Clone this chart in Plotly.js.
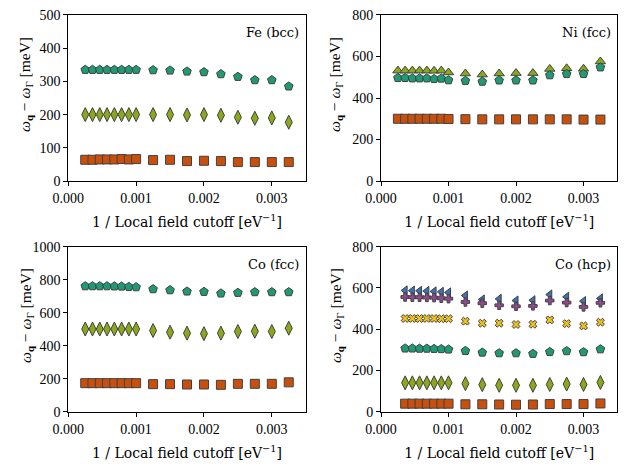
<!DOCTYPE html>
<html>
<head>
<meta charset="utf-8">
<script src="https://cdn.plot.ly/plotly-3.0.1.min.js"></script>
<style>
  html, body { margin: 0; padding: 0; background: #fff; }
  #chart { width: 627px; height: 467px; }
</style>
</head>
<body>
<div id="chart"></div>
<script>
// 1 / cutoff values (eV^-1)
const xAll = [0.00025, 0.000357, 0.000464, 0.000571, 0.000679, 0.000786, 0.000893, 0.001,
  0.00125, 0.0015, 0.00175, 0.002, 0.00225, 0.0025, 0.00275, 0.003, 0.00325];
const xHcp = xAll.slice(1);

// Fe (bcc)
const feSquare = [64, 64, 65, 65, 65, 66, 65, 66, 63, 64, 60, 61, 60, 57, 57, 57, 57];
const feDiamond = [200, 200, 200, 200, 200, 200, 200, 200, 200, 200, 199, 200, 198, 192, 189, 190, 177];
const fePentagon = [335, 335, 335, 335, 335, 335, 335, 335, 334, 333, 330, 328, 322, 314, 304, 304, 285];

// Ni (fcc)
const niSquare = [300, 300, 300, 300, 300, 300, 300, 299, 298, 297, 297, 297, 297, 297, 297, 296, 296];
const niTriangle = [532, 532, 532, 532, 532, 531, 532, 523, 518, 513, 518, 520, 520, 540, 543, 541, 576];
const niPentagon = [497, 497, 495, 495, 495, 492, 494, 486, 483, 479, 485, 485, 485, 510, 516, 516, 548];

// Co (fcc)
const cofSquare = [173, 173, 173, 173, 173, 173, 173, 173, 167, 167, 165, 165, 163, 169, 169, 169, 178];
const cofDiamond = [501, 501, 501, 501, 501, 501, 501, 501, 492, 482, 476, 473, 476, 486, 488, 486, 506];
const cofPentagon = [761, 761, 761, 761, 760, 759, 757, 755, 743, 737, 729, 727, 717, 721, 725, 725, 725];

// Co (hcp)
const cohSquare = [39, 39, 39, 39, 39, 39, 39, 36, 36, 35, 34, 35, 37, 37, 37, 40];
const cohDiamond = [140, 140, 140, 140, 140, 140, 140, 136, 131, 128, 128, 128, 132, 134, 132, 142];
const cohPentagon = [307, 307, 306, 306, 305, 304, 302, 295, 287, 284, 284, 281, 290, 294, 289, 303];
const cohX = [452, 452, 452, 452, 452, 451, 451, 439, 429, 429, 423, 424, 445, 427, 416, 434];
const cohPlus = [556, 555, 555, 554, 553, 550, 548, 532, 526, 516, 511, 513, 539, 529, 508, 528];
const cohTriangle = [588, 587, 586, 585, 583, 581, 578, 563, 544, 547, 539, 540, 568, 557, 536, 549];

const panelLabels = ["Fe (bcc)", "Ni (fcc)", "Co (fcc)", "Co (hcp)"];

const cOrange = "#c9500c";
const cGreen = "#1f9a74";
const cOlive = "#8aa81c";
const cBlue = "#3d72b6";
const cPurple = "#8f4a8f";
const cYellow = "#f1c21e";
const edge = "#404040";

function pts(x, y, axis, symbol, color, size) {
  return {
    x: x, y: y,
    xaxis: "x" + axis, yaxis: "y" + axis,
    type: "scatter", mode: "markers",
    showlegend: false, hoverinfo: "skip",
    marker: { symbol: symbol, color: color, size: size, line: { color: edge, width: 1 } }
  };
}

const traces = [
  pts(xAll, feSquare, "", "square", cOrange, 9),
  pts(xAll, feDiamond, "", "diamond-tall", cOlive, 10),
  pts(xAll, fePentagon, "", "pentagon", cGreen, 9),

  pts(xAll, niSquare, "2", "square", cOrange, 9),
  pts(xAll, niTriangle, "2", "triangle-up", cOlive, 9),
  pts(xAll, niPentagon, "2", "pentagon", cGreen, 9),

  pts(xAll, cofSquare, "3", "square", cOrange, 9),
  pts(xAll, cofDiamond, "3", "diamond-tall", cOlive, 10),
  pts(xAll, cofPentagon, "3", "pentagon", cGreen, 9),

  pts(xHcp, cohSquare, "4", "square", cOrange, 9),
  pts(xHcp, cohDiamond, "4", "diamond-tall", cOlive, 10),
  pts(xHcp, cohPentagon, "4", "pentagon", cGreen, 9),
  pts(xHcp, cohX, "4", "x", cYellow, 7),
  pts(xHcp, cohTriangle, "4", "triangle-left", cBlue, 8),
  pts(xHcp, cohPlus, "4", "cross", cPurple, 7)
];

const tickFont = { family: "Liberation Serif", size: 14, color: "#000" };
const titleFont = { family: "DejaVu Serif", size: 14, color: "#000" };
const yTitleFont = { family: "Liberation Serif", size: 15.5, color: "#000" };
const xTitle = "1 / Local field cutoff [eV<sup>−1</sup>]";
const yTitle = "<i>ω</i><sub><b>q</b></sub> − <i>ω</i><sub>Γ</sub> [meV]";

function xAxis(domain, anchor) {
  return {
    domain: domain, anchor: anchor, range: [0, 0.0035],
    tickvals: [0, 0.001, 0.002, 0.003], ticktext: ["0.000", "0.001", "0.002", "0.003"],
    ticks: "outside", ticklen: 4, tickwidth: 1, tickcolor: "#000",
    tickfont: tickFont,
    showline: true, mirror: true, linecolor: "#000", linewidth: 1,
    showgrid: false, zeroline: false,
    title: { text: xTitle, font: titleFont, standoff: 12 }
  };
}
function yAxis(domain, anchor, max, step) {
  return {
    domain: domain, anchor: anchor, range: [0, max], dtick: step, tick0: 0,
    ticks: "outside", ticklen: 4, tickwidth: 1, tickcolor: "#000",
    tickfont: tickFont,
    showline: true, mirror: true, linecolor: "#000", linewidth: 1,
    showgrid: false, zeroline: false
  };
}

const colL = [0.1089, 0.4876], colR = [0.6077, 0.9845];
const rowT = [0.6124, 0.9679], rowB = [0.1184, 0.4717];

const annotations = [["x", "y"], ["x2", "y2"], ["x3", "y3"], ["x4", "y4"]].map((r, i) => ({
  text: panelLabels[i], xref: r[0] + " domain", yref: r[1] + " domain",
  x: 0.98, y: 0.95, xanchor: "right", yanchor: "top", showarrow: false,
  font: { family: "DejaVu Serif", size: 13, color: "#000" }
}));

// y-axis labels, placed as in the reference (slightly above the axis centre)
[[0.0415, 0.818], [0.536, 0.818], [0.0415, 0.3233], [0.536, 0.3233]].forEach(p => {
  annotations.push({
    text: yTitle, xref: "paper", yref: "paper", x: p[0], y: p[1],
    xanchor: "center", yanchor: "middle", textangle: -90, showarrow: false,
    font: yTitleFont
  });
});

Plotly.newPlot("chart", traces, {
  width: 627, height: 467,
  margin: { l: 0, r: 0, t: 0, b: 0 },
  paper_bgcolor: "#fff", plot_bgcolor: "#fff",
  font: tickFont,
  xaxis: xAxis(colL, "y"), yaxis: yAxis(rowT, "x", 500, 100),
  xaxis2: xAxis(colR, "y2"), yaxis2: yAxis(rowT, "x2", 800, 200),
  xaxis3: xAxis(colL, "y3"), yaxis3: yAxis(rowB, "x3", 1000, 200),
  xaxis4: xAxis(colR, "y4"), yaxis4: yAxis(rowB, "x4", 800, 200),
  annotations: annotations
}, { displayModeBar: false, staticPlot: true });
</script>
</body>
</html>
